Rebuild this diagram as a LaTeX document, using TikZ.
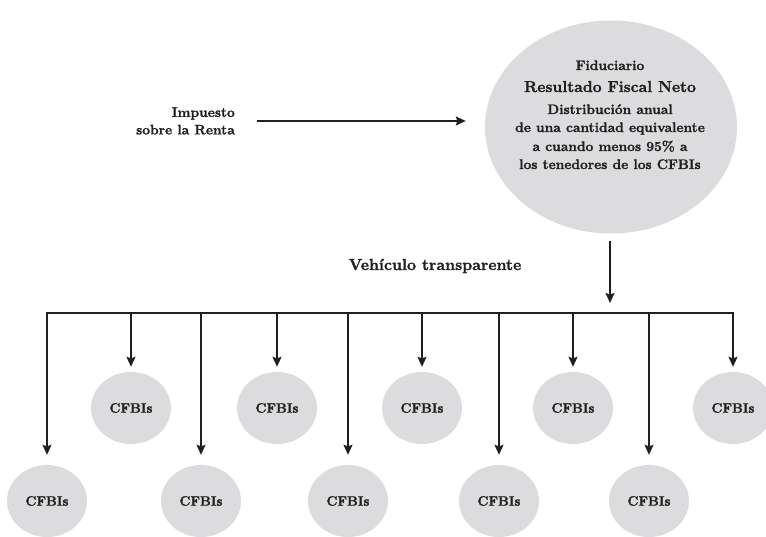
\documentclass[tikz,border=0pt]{standalone}
\usepackage{fontspec}
\setmainfont{Latin Modern Roman}[BoldFeatures={FakeBold=1.6}]
\usetikzlibrary{arrows.meta,shapes.geometric}
\definecolor{ink}{HTML}{231F20}
\definecolor{discgray}{HTML}{DCDCDE}
\newcommand\fsize[1]{\fontsize{#1}{#1}\selectfont\bfseries}
\begin{document}
\begin{tikzpicture}[x=1pt,y=-1pt,
  line/.style={draw=ink,line width=1.1pt,line cap=rect},
  arr/.style={line,line cap=butt,-{Stealth[length=10pt,width=9pt,inset=1.5pt]}},
  disc/.style={ellipse,fill=discgray,draw=none,inner sep=0pt,
    minimum width=80pt,minimum height=72pt,text=ink,font=\fsize{13.5}},
  bigdisc/.style={ellipse,fill=discgray,draw=none,inner sep=0pt,
    minimum width=252pt,minimum height=213pt},
  txt/.style={inner sep=0pt,text=ink,anchor=base}]
\useasboundingbox (0,0) rectangle (766,537);

% trustee disc and its text
\node[bigdisc] (fid) at (611,127) {};
\node[txt,font=\fsize{13.8}] (fidA) at (610,70) {Fiduciario};
\node[txt,font=\fsize{15.8}] (fidB) at (610,92) {Resultado Fiscal Neto};
\node[txt,font=\fsize{13.8}] (fidC) at (610,114) {Distribución anual};
\node[txt,font=\fsize{13.8}] (fidD) at (610,132) {de una cantidad equivalente};
\node[txt,font=\fsize{13.8}] (fidE) at (610,151) {a cuando menos 95\% a};
\node[txt,font=\fsize{13.8}] (fidF) at (610,169) {los tenedores de los CFBIs};

% income tax label
\node[inner sep=0pt,text=ink,align=right,anchor=east,
  font=\fontsize{13.8}{17.5}\selectfont\bfseries] (imp) at (235,121)
  {Impuesto\\sobre la Renta};
\draw[arr] ([xshift=22pt]imp.east) -- ([xshift=-19pt]imp.east -| fid.west);

% pass-through vehicle
\node[txt,font=\fsize{16}] (veh) at (435,270) {Vehículo transparente};
\coordinate (hub) at (610,303);
\draw[arr] ([yshift=-7pt]fid.south -| hub) -- (hub);

% holders
\node[disc] (t1) at (131,408) {CFBIs};
\node[disc] (t2) at (277,408) {CFBIs};
\node[disc] (t3) at (422,408) {CFBIs};
\node[disc] (t4) at (573,408) {CFBIs};
\node[disc] (t5) at (733,408) {CFBIs};
\node[disc] (b1) at (47,501) {CFBIs};
\node[disc] (b2) at (201,501) {CFBIs};
\node[disc] (b3) at (348,501) {CFBIs};
\node[disc] (b4) at (499,501) {CFBIs};
\node[disc] (b5) at (649,501) {CFBIs};

% distribution bus
\coordinate (bus) at (0,313);
\draw[line] (b1 |- bus) -- (t5 |- bus);
\foreach \n in {t1,t2,t3,t4,t5}
  \draw[arr] (\n |- bus) -- ([yshift=5pt]\n.north);
\foreach \n in {b1,b2,b3,b4,b5}
  \draw[arr] (\n |- bus) -- ([yshift=10pt]\n.north);
\end{tikzpicture}
\end{document}
